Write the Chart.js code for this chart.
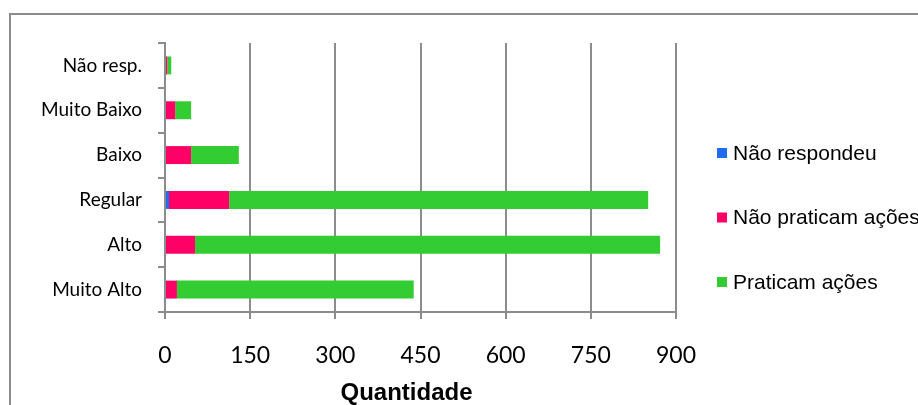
<!DOCTYPE html>
<html>
<head>
<meta charset="utf-8">
<script src="https://cdn.jsdelivr.net/npm/chart.js@4.4.1/dist/chart.umd.min.js"></script>
<style>
  html, body { margin: 0; padding: 0; background: #fff; }
  #wrap { width: 918px; height: 405px; }
</style>
</head>
<body>
<div id="wrap"><canvas id="c" width="918" height="405"></canvas></div>
<script>
// Nível de participação por categoria (de cima para baixo)
const categorias = ['Não resp.', 'Muito Baixo', 'Baixo', 'Regular', 'Alto', 'Muito Alto'];

const naoRespondeu   = [0, 0, 0, 7, 0, 0];
const naoPraticam    = [4, 18, 46, 106, 53, 21];
const praticam       = [7, 28, 84, 738, 819, 417];

const seriesNomes = ['Não respondeu', 'Não praticam ações', 'Praticam ações'];
const seriesCores = ['#1E6BF0', '#FF0066', '#33CC33'];

const eixoX = { min: 0, max: 900, passo: 150, titulo: 'Quantidade' };

const cinza = '#8C8C8C';

// Moldura externa e legenda desenhadas à direita
const moldura = {
  id: 'moldura',
  beforeDraw(chart) {
    const ctx = chart.ctx;
    ctx.save();
    ctx.fillStyle = '#fff';
    ctx.fillRect(0, 0, chart.width, chart.height);
    ctx.strokeStyle = cinza;
    ctx.lineWidth = 2;
    ctx.strokeRect(10, 14, 1200, 1200);
    ctx.restore();
  },
  afterDraw(chart) {
    const ctx = chart.ctx;
    ctx.save();
    ctx.font = '21px "Liberation Sans", Arial, sans-serif';
    ctx.textAlign = 'left';
    ctx.textBaseline = 'middle';
    chart.data.datasets.forEach((ds, i) => {
      const cy = 153 + i * 64.5;
      ctx.fillStyle = ds.backgroundColor;
      ctx.fillRect(717, cy - 5, 10, 10);
      ctx.fillStyle = '#000';
      ctx.fillText(ds.label, 733, cy + 1);
    });
    ctx.restore();
  }
};

// Título do eixo X, um pouco à esquerda do centro da área de plotagem
const tituloX = {
  id: 'tituloX',
  afterDraw(chart) {
    const ctx = chart.ctx;
    const area = chart.chartArea;
    ctx.save();
    ctx.font = 'bold 24px "Liberation Sans", Arial, sans-serif';
    ctx.fillStyle = '#000';
    ctx.textAlign = 'center';
    ctx.textBaseline = 'middle';
    ctx.fillText(eixoX.titulo, (area.left + area.right) / 2 - 14, 393);
    ctx.restore();
  }
};

const dados = [naoRespondeu, naoPraticam, praticam];

new Chart(document.getElementById('c'), {
  type: 'bar',
  data: {
    labels: categorias,
    datasets: dados.map((valores, i) => ({
      label: seriesNomes[i],
      data: valores,
      backgroundColor: seriesCores[i],
      borderWidth: 0,
      barPercentage: 1,
      categoryPercentage: 0.4
    }))
  },
  options: {
    indexAxis: 'y',
    responsive: false,
    animation: false,
    layout: { padding: { top: 43, right: 242, bottom: 1, left: 0 } },
    plugins: {
      legend: { display: false },
      tooltip: { enabled: false }
    },
    scales: {
      x: {
        stacked: true,
        min: eixoX.min,
        max: eixoX.max,
        afterFit(scale) { scale.height = 92; },
        ticks: {
          stepSize: eixoX.passo,
          color: '#000',
          padding: 23,
          maxRotation: 0,
          font: { family: 'Lato', size: 23 }
        },
        grid: {
          color: cinza,
          lineWidth: 2,
          drawTicks: true,
          tickLength: 7
        },
        border: { display: true, color: cinza, width: 2 }
      },
      y: {
        stacked: true,
        afterFit(scale) { scale.width = 165; },
        ticks: {
          color: '#000',
          padding: 16,
          font: { family: 'Lato', size: 19 }
        },
        grid: {
          offset: true,
          drawOnChartArea: false,
          drawTicks: true,
          tickLength: 7,
          color: cinza,
          lineWidth: 2
        },
        border: { display: true, color: cinza, width: 2 }
      }
    }
  },
  plugins: [moldura, tituloX]
});
</script>
</body>
</html>
